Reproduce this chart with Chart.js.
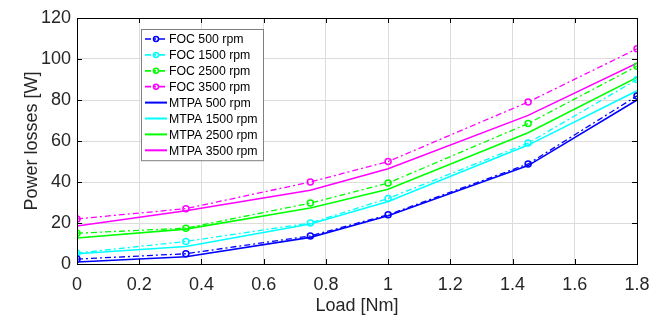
<!DOCTYPE html>
<html>
<head>
<meta charset="utf-8">
<script src="https://cdn.jsdelivr.net/npm/chart.js@4/dist/chart.umd.min.js"></script>
<style>
  html, body { margin: 0; padding: 0; background: #fff; }
  #wrap { width: 664px; height: 322px; }
</style>
</head>
<body>
<div id="wrap"><canvas id="losses" width="664" height="322"></canvas></div>
<script>
// load points [Nm]
const loads = [0, 0.35, 0.75, 1, 1.45, 1.8];

// FOC control, power losses [W]
const foc500 = [2.4, 5, 13.7, 24, 48.8, 82];
const foc1500 = [5.3, 11, 20, 32, 59, 90];
const foc2500 = [15, 17.5, 29.7, 39.5, 68.5, 96.5];
const foc3500 = [22, 27, 40, 50, 79, 105];

// MTPA control, power losses [W]
const mtpa500 = [1, 3.5, 13, 23.5, 48, 80];
const mtpa1500 = [5, 8.5, 19.5, 30.5, 58, 84.5];
const mtpa2500 = [12.7, 17, 27.3, 36.5, 64, 91];
const mtpa3500 = [18.5, 26, 36, 46.5, 72.5, 98];

const xTicks = [0, 0.2, 0.4, 0.6, 0.8, 1, 1.2, 1.4, 1.6, 1.8];
const yTicks = [0, 20, 40, 60, 80, 100, 120];

const BLUE = "#0000ff", CYAN = "#00ffff", GREEN = "#00ff00", MAGENTA = "#ff00ff";
const FONT = "'Liberation Sans', Arial, sans-serif";

function pts(values) {
  return values.map((v, i) => ({ x: loads[i], y: v }));
}

function focSet(label, values, color) {
  return {
    label,
    data: pts(values),
    borderColor: color,
    backgroundColor: "rgba(0,0,0,0)",
    borderWidth: 1.3,
    borderDash: [6, 3, 2, 3],
    pointRadius: 3,
    pointBorderWidth: 1.5,
    pointBorderColor: color,
    pointBackgroundColor: "rgba(0,0,0,0)",
    tension: 0,
  };
}

function mtpaSet(label, values, color) {
  return {
    label,
    data: pts(values),
    borderColor: color,
    backgroundColor: color,
    borderWidth: 1.6,
    pointRadius: 0,
    tension: 0,
  };
}

// MATLAB-like frame with inward ticks
const framePlugin = {
  id: "frame",
  afterDatasetsDraw(chart) {
    const { ctx, chartArea: a, scales } = chart;
    ctx.save();
    ctx.strokeStyle = "#000";
    ctx.lineWidth = 1;
    ctx.strokeRect(a.left + 0.5, a.top + 0.5, a.right - a.left, a.bottom - a.top);
    ctx.beginPath();
    for (const t of xTicks) {
      const x = Math.round(scales.x.getPixelForValue(t)) + 0.5;
      ctx.moveTo(x, a.bottom); ctx.lineTo(x, a.bottom - 5);
      ctx.moveTo(x, a.top); ctx.lineTo(x, a.top + 5);
    }
    for (const t of yTicks) {
      const y = Math.round(scales.y.getPixelForValue(t)) + 0.5;
      ctx.moveTo(a.left, y); ctx.lineTo(a.left + 5, y);
      ctx.moveTo(a.right, y); ctx.lineTo(a.right - 5, y);
    }
    ctx.stroke();
    ctx.restore();
  },
};

// legend box inside the plot, upper left
const legendPlugin = {
  id: "boxLegend",
  afterDraw(chart) {
    const { ctx } = chart;
    const left = 141, top = 29, w = 122, rowH = 15.9;
    const h = rowH * chart.data.datasets.length + 4;
    ctx.save();
    ctx.fillStyle = "#fff";
    ctx.fillRect(left, top, w, h);
    ctx.strokeStyle = "#7f7f7f";
    ctx.lineWidth = 1;
    ctx.strokeRect(left + 0.5, top + 0.5, w, h);
    ctx.font = "12.3px " + FONT;
    ctx.textBaseline = "middle";
    chart.data.datasets.forEach((ds, i) => {
      const y = top + 10 + i * rowH;
      ctx.strokeStyle = ds.borderColor;
      ctx.lineWidth = ds.borderWidth + 0.4;
      ctx.setLineDash(ds.borderDash || []);
      ctx.beginPath();
      ctx.moveTo(left + 4, y); ctx.lineTo(left + 26, y);
      ctx.stroke();
      ctx.setLineDash([]);
      if (ds.pointRadius) {
        ctx.lineWidth = 1.5;
        ctx.beginPath();
        ctx.arc(left + 15, y, 2.5, 0, Math.PI * 2);
        ctx.stroke();
      }
      ctx.fillStyle = "#000";
      ctx.fillText(ds.label, left + 28, y + 1);
    });
    ctx.restore();
  },
};

const chart = new Chart(document.getElementById("losses"), {
  type: "line",
  data: {
    datasets: [
      focSet("FOC 500 rpm", foc500, BLUE),
      focSet("FOC 1500 rpm", foc1500, CYAN),
      focSet("FOC 2500 rpm", foc2500, GREEN),
      focSet("FOC 3500 rpm", foc3500, MAGENTA),
      mtpaSet("MTPA 500 rpm", mtpa500, BLUE),
      mtpaSet("MTPA 1500 rpm", mtpa1500, CYAN),
      mtpaSet("MTPA 2500 rpm", mtpa2500, GREEN),
      mtpaSet("MTPA 3500 rpm", mtpa3500, MAGENTA),
    ],
  },
  options: {
    responsive: false,
    animation: false,
    layout: { padding: { top: 18, right: 27, left: 0, bottom: 0 } },
    plugins: {
      legend: { display: false },
      tooltip: { enabled: false },
    },
    scales: {
      x: {
        type: "linear",
        min: 0,
        max: 1.8,
        afterBuildTicks: (s) => { s.ticks = xTicks.map(v => ({ value: v })); },
        afterFit: (s) => { s.height = 58; },
        grid: { color: "#dcdcdc", drawTicks: false },
        border: { display: false },
        ticks: {
          color: "#262626",
          font: { family: FONT, size: 18 },
          padding: 10,
          maxRotation: 0,
          callback: (v) => String(v),
        },
        title: {
          display: true,
          text: "Load [Nm]",
          color: "#262626",
          font: { family: FONT, size: 18 },
          padding: { top: 0, bottom: 5 },
        },
      },
      y: {
        min: 0,
        max: 120,
        afterBuildTicks: (s) => { s.ticks = yTicks.map(v => ({ value: v })); },
        afterFit: (s) => { s.width = 77; },
        grid: { color: "#dcdcdc", drawTicks: false },
        border: { display: false },
        ticks: {
          color: "#262626",
          font: { family: FONT, size: 18 },
          padding: 6,
        },
        title: {
          display: true,
          text: "Power losses [W]",
          color: "#262626",
          font: { family: FONT, size: 18 },
          padding: { top: 21, bottom: 0 },
        },
      },
    },
  },
  plugins: [framePlugin, legendPlugin],
});
</script>
</body>
</html>
